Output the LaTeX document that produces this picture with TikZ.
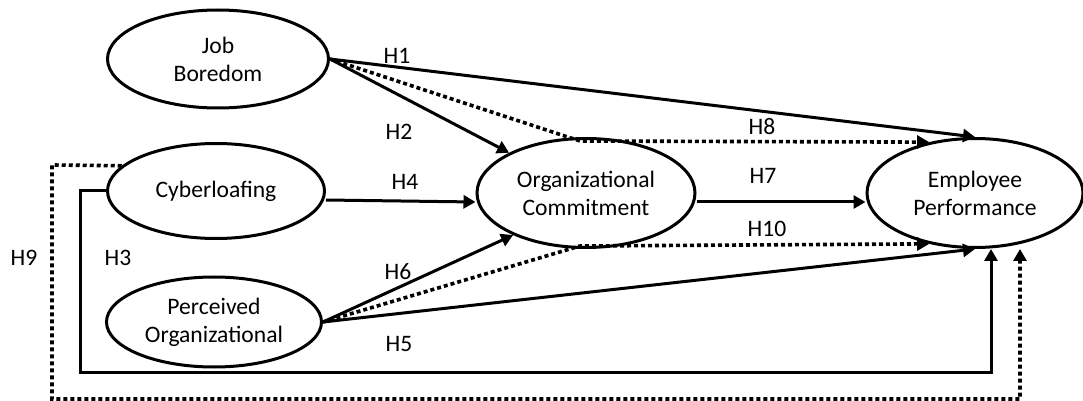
\documentclass[tikz,border=0pt]{standalone}
\usepackage{fontspec}
\setmainfont{Carlito}
\usetikzlibrary{shapes.geometric,arrows.meta}
\tikzset{
  var/.style = {ellipse, draw=black, line width=1.5pt, inner sep=0pt, align=center, font=\fontsize{11.8}{14}\selectfont},
  hyp/.style = {font=\fontsize{11.8}{14}\selectfont, inner sep=0pt},
  path/.style = {line width=1.5pt, -{Triangle[length=6pt,width=6.5pt]}},
  dotpath/.style = {path, line width=1.8pt, dash pattern=on 2pt off 1.5pt}
}
\begin{document}
\begin{tikzpicture}[x=0.5pt, y=-0.5pt]
\useasboundingbox (0,0) rectangle (1083,401);
% constructs
\node [var, minimum width=110.5pt, minimum height=49pt] (jb) at (218,59) {Job\\Boredom};
\node [var, minimum width=108.5pt, minimum height=47.5pt] (cyb) at (216,191) {Cyberloafing};
\node [var, minimum width=107.5pt, minimum height=45pt] (pos) at (214,322) {Perceived\\Organizational};
\node [var, minimum width=109pt, minimum height=54.5pt] (oc) at (586,193) {Organizational\\Commitment};
\node [var, minimum width=108pt, minimum height=54.5pt] (ep) at (975,193) {Employee\\Performance};
% bends
\coordinate (h8bend) at (580,141);
\coordinate (h10bend) at (580,246);
\coordinate (h3corner) at (991,372);
\coordinate (h9corner) at (1020,399);
% direct paths
\draw [path] (jb.east) -- (ep.north);
\draw [path] (jb.east) -- (oc);
\draw [path] ([yshift=-4.5pt]cyb.east) -- ([yshift=-4.5pt]oc.west);
\draw [path] ([yshift=-4.5pt]oc.east) -- ([yshift=-4.5pt]ep.west);
\draw [path] (pos.east) -- (oc.210);
\draw [path] (pos.east) -- (ep.south);
\draw [path] (cyb.west) -- ++(-26,0) |- (h3corner) -- (h3corner |- ep.south);
% mediated paths
\draw [dotpath] (jb.east) -- (h8bend) -- (ep.132);
\draw [dotpath] (pos.east) -- (h10bend) -- (ep.228);
\draw [dotpath] (cyb.165) -- (52,165) |- (h9corner) -- (h9corner |- ep.south);
% labels
\node [hyp] (h1) at (397,56) {H1};
\node [hyp] (h2) at (399,132) {H2};
\node [hyp] (h3) at (118,258) {H3};
\node [hyp] (h4) at (405,182) {H4};
\node [hyp] (h5) at (399,344) {H5};
\node [hyp] (h6) at (398,272) {H6};
\node [hyp] (h7) at (763,176) {H7};
\node [hyp] (h8) at (762,127) {H8};
\node [hyp] (h9) at (24,258) {H9};
\node [hyp] (h10) at (767,229) {H10};
\end{tikzpicture}
\end{document}
